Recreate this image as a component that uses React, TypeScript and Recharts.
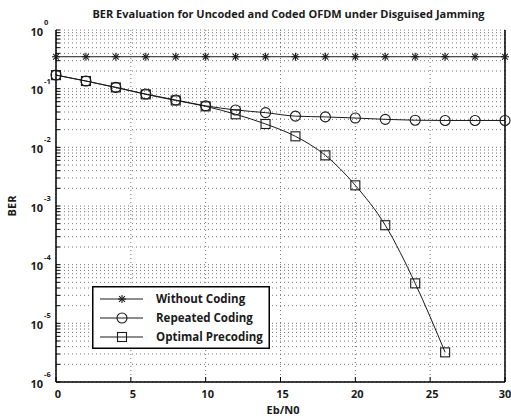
import React from 'react';
import { LineChart, Line, XAxis, YAxis, CartesianGrid, Legend, Label } from 'recharts';

const ebn0 = [0, 2, 4, 6, 8, 10, 12, 14, 16, 18, 20, 22, 24, 26, 28, 30];
const berWithoutCoding = [0.35, 0.35, 0.35, 0.35, 0.35, 0.35, 0.35, 0.35, 0.35, 0.35, 0.35, 0.35, 0.35, 0.35, 0.35, 0.35];
const berRepeatedCoding = [0.171, 0.135, 0.105, 0.081, 0.064, 0.051, 0.0433, 0.039, 0.034, 0.033, 0.0316, 0.030, 0.029, 0.0287, 0.0287, 0.0287];
const berOptimalPrecoding = [0.17, 0.135, 0.105, 0.08, 0.063, 0.05, 0.0366, 0.025, 0.0154, 0.0073, 0.00225, 0.00047, 0.000048, 0.0000032, null, null];

const seriesKeys = ['without', 'repeated', 'optimal'];
const seriesNames = ['Without Coding', 'Repeated Coding', 'Optimal Precoding'];
const titleText = 'BER Evaluation for Uncoded and Coded OFDM under Disguised Jamming';
const xLabelText = 'Eb/N0';
const yLabelText = 'BER';

const xTicks = [0, 5, 10, 15, 20, 25, 30];
const yDecades = [1, 0.1, 0.01, 0.001, 0.0001, 0.00001, 0.000001];
const yDecadeExponents = ['0', '-1', '-2', '-3', '-4', '-5', '-6'];
const minorMultipliers = [2, 3, 4, 5, 6, 7, 8, 9];

const yTicks = [
  ...yDecades,
  ...yDecades.slice(1).flatMap((d) => minorMultipliers.map((m) => m * d)),
];

const data = ebn0.map((x, i) => ({
  x,
  without: berWithoutCoding[i],
  repeated: berRepeatedCoding[i],
  optimal: berOptimalPrecoding[i],
}));

const FONT = '"Open Sans", Lato, sans-serif';
const INK = '#1a1a1a';

const StarMark = ({ cx, cy, s = 4 }: { cx: number; cy: number; s?: number }) => {
  const d = s * 0.72;
  return (
    <g stroke={INK} strokeWidth={1.1}>
      <line x1={cx} y1={cy - s} x2={cx} y2={cy + s} />
      <line x1={cx - s} y1={cy} x2={cx + s} y2={cy} />
      <line x1={cx - d} y1={cy - d} x2={cx + d} y2={cy + d} />
      <line x1={cx - d} y1={cy + d} x2={cx + d} y2={cy - d} />
    </g>
  );
};
const CircleMark = ({ cx, cy }: { cx: number; cy: number }) => (
  <circle cx={cx} cy={cy} r={5} fill="none" stroke={INK} strokeWidth={1.1} />
);
const SquareMark = ({ cx, cy }: { cx: number; cy: number }) => (
  <rect x={cx - 4.5} y={cy - 4.5} width={9} height={9} fill="none" stroke={INK} strokeWidth={1.1} />
);

const markerByKey: Record<string, any> = { without: StarMark, repeated: CircleMark, optimal: SquareMark };

const mk = (Comp: any) => (props: any) => {
  const { cx, cy, index } = props;
  if (cx == null || cy == null || props.value == null || Number.isNaN(cy)) return <g key={`e${index}`} />;
  return <Comp key={`m${index}`} cx={cx} cy={cy} />;
};

const isDecade = (v: number) => yDecades.findIndex((d) => Math.abs(v - d) <= d * 1e-9);

const YTick = (props: any) => {
  const { x, y, payload } = props;
  const idx = isDecade(payload.value);
  if (idx < 0) return <g />;
  return (
    <g fontFamily={FONT} fontWeight="bold" fill={INK}>
      <text x={x} y={y + 5.5} textAnchor="end" fontSize={11}>10</text>
      <text x={x + 1} y={y - 5} textAnchor="start" fontSize={7.5}>{yDecadeExponents[idx]}</text>
    </g>
  );
};

const XTick = (props: any) => {
  const { x, y, payload } = props;
  return (
    <text x={x + 2} y={y + 7} textAnchor="middle" fontSize={11} fontFamily={FONT} fontWeight="bold" fill={INK}>
      {payload.value}
    </text>
  );
};

const LegendBox = (props: any) => {
  const payload = [...(props.payload || [])].sort(
    (a: any, b: any) => seriesKeys.indexOf(a.dataKey) - seriesKeys.indexOf(b.dataKey)
  );
  return (
    <svg width={178} height={63} style={{ display: 'block' }}>
      <rect x={0.75} y={0.75} width={176.5} height={61.5} fill="#fff" stroke="#000" strokeWidth={1.5} />
      {payload.map((p: any, i: number) => {
        const cy = 13 + i * 19;
        const M = markerByKey[p.dataKey];
        return (
          <g key={p.dataKey}>
            <line x1={8} x2={51} y1={cy} y2={cy} stroke={INK} strokeWidth={1} />
            <M cx={30} cy={cy} />
            <text x={64} y={cy + 4} fontSize={11.5} fontFamily={FONT} fontWeight="bold" fill={INK}>
              {p.value}
            </text>
          </g>
        );
      })}
    </svg>
  );
};

export default function App() {
  return (
    <div style={{ position: 'absolute', left: 0, top: 0, width: 511, height: 420, background: '#fff', overflow: 'hidden' }}>
      <LineChart width={511} height={420} data={data} margin={{ top: 30, right: 0, bottom: 0, left: 0 }}>
        <CartesianGrid stroke="#666" strokeDasharray="1 3" strokeWidth={0.9} />
        <XAxis
          dataKey="x"
          type="number"
          domain={[0, 30]}
          ticks={xTicks}
          height={38}
          tickSize={-5}
          tickMargin={14}
          tick={<XTick />}
          axisLine={{ stroke: '#000', strokeWidth: 1.5 }}
          tickLine={{ stroke: '#000' }}
        />
        <XAxis
          xAxisId="top"
          orientation="top"
          dataKey="x"
          type="number"
          domain={[0, 30]}
          ticks={xTicks}
          height={0}
          tickSize={-5}
          tick={false}
          axisLine={{ stroke: '#000', strokeWidth: 1.5 }}
          tickLine={{ stroke: '#000' }}
        />
        <YAxis
          scale="log"
          domain={[0.000001, 1]}
          ticks={yTicks}
          width={56}
          tickSize={-4}
          tickMargin={17}
          tick={<YTick />}
          interval={0}
          axisLine={{ stroke: '#000', strokeWidth: 1.5 }}
          tickLine={{ stroke: '#000' }}
        >
          <Label
            content={(p: any) => {
              const vb = p.viewBox;
              const cx = vb.x + 16;
              const cy = vb.y + vb.height / 2;
              return (
                <text x={cx} y={cy} transform={`rotate(-90 ${cx} ${cy})`} textAnchor="middle" fontSize={11} fontFamily={FONT} fontWeight="bold" fill={INK}>
                  {yLabelText}
                </text>
              );
            }}
          />
        </YAxis>
        <YAxis
          yAxisId="right"
          orientation="right"
          scale="log"
          domain={[0.000001, 1]}
          ticks={yTicks}
          width={6}
          tickSize={-4}
          tick={false}
          interval={0}
          axisLine={{ stroke: '#000', strokeWidth: 1.5 }}
          tickLine={{ stroke: '#000' }}
        />
        <Legend
          layout="vertical"
          align="center"
          verticalAlign="middle"
          content={<LegendBox />}
          wrapperStyle={{ position: 'absolute', left: 92, top: 286, width: 178, height: 63 }}
        />
        <Line
          name={seriesNames[0]}
          dataKey="without"
          stroke={INK}
          strokeWidth={1}
          dot={mk(StarMark)}
          isAnimationActive={false}
          type="linear"
        />
        <Line
          name={seriesNames[1]}
          dataKey="repeated"
          stroke={INK}
          strokeWidth={1}
          dot={mk(CircleMark)}
          isAnimationActive={false}
          type="monotone"
        />
        <Line
          name={seriesNames[2]}
          dataKey="optimal"
          stroke={INK}
          strokeWidth={1}
          dot={mk(SquareMark)}
          isAnimationActive={false}
          type="monotone"
          connectNulls={false}
        />
      </LineChart>
      <svg width={511} height={420} style={{ position: 'absolute', left: 0, top: 0, pointerEvents: 'none' }}>
        <text x={288.5} y={18} textAnchor="middle" fontSize={11} fontFamily={FONT} fontWeight="bold" fill={INK}>
          {titleText}
        </text>
        <text x={283} y={414} textAnchor="middle" fontSize={11} fontFamily={FONT} fontWeight="bold" fill={INK}>
          {xLabelText}
        </text>
      </svg>
    </div>
  );
}
